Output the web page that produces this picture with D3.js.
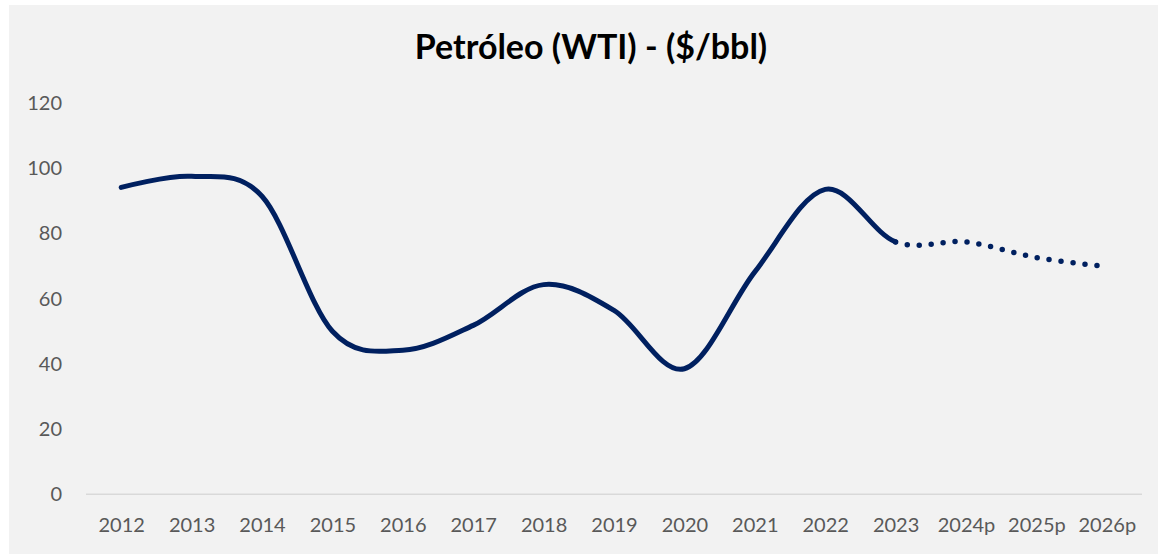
<!DOCTYPE html>
<html>
<head>
<meta charset="utf-8">
<script src="https://cdn.jsdelivr.net/npm/d3@7"></script>
<style>
  html, body { margin: 0; padding: 0; background: #ffffff; }
  svg { display: block; }
</style>
</head>
<body>
<svg id="chart" width="1158" height="554"></svg>
<script>
// WTI crude oil, annual average price in US$/bbl ("p" = projection)
const categories = ["2012", "2013", "2014", "2015", "2016", "2017", "2018", "2019",
                    "2020", "2021", "2022", "2023", "2024p", "2025p", "2026p"];
const prices = [94.1, 97.5, 91.4, 50.0, 44.2, 51.8, 64.3, 56.4,
                38.5, 68.2, 93.5, 77.4, 77.4, 72.6, 69.8];
const yTicks = [0, 20, 40, 60, 80, 100, 120];
const lastActual = "2023";
const title = "Petróleo (WTI) - ($/bbl)";

const W = 1158, H = 554;
const margin = { left: 86, right: 16, top: 103, bottom: 60 };
const svg = d3.select("#chart");

// chart area background
svg.append("rect")
  .attr("x", 9).attr("y", 5)
  .attr("width", W - 9).attr("height", H - 5)
  .attr("fill", "#f2f2f2");

const x = d3.scalePoint()
  .domain(categories)
  .range([margin.left, W - margin.right])
  .padding(0.5);

const y = d3.scaleLinear()
  .domain([0, 120])
  .range([494.3, 103]);

// title
svg.append("text")
  .attr("x", 591)
  .attr("y", 59)
  .attr("text-anchor", "middle")
  .attr("font-family", "Lato, 'Open Sans', sans-serif")
  .attr("font-weight", 700)
  .attr("font-size", 34)
  .attr("fill", "#000000")
  .text(title);

// y axis labels
const yAxis = svg.append("g")
  .attr("transform", `translate(${margin.left},0)`)
  .call(d3.axisLeft(y).tickValues(yTicks).tickSize(0).tickPadding(24));
yAxis.select(".domain").remove();
yAxis.selectAll("text")
  .attr("font-family", "Lato, 'Open Sans', sans-serif")
  .attr("font-size", 20)
  .attr("fill", "#595959");

// x axis: baseline + category labels
const xAxis = svg.append("g")
  .attr("transform", `translate(0,${y(0)})`)
  .call(d3.axisBottom(x).tickSize(0).tickPadding(24));
xAxis.select(".domain")
  .attr("stroke", "#d9d9d9")
  .attr("stroke-width", 1.6)
  .attr("d", `M${margin.left},0H${W - margin.right}`);
xAxis.selectAll("text")
  .attr("font-family", "Lato, 'Open Sans', sans-serif")
  .attr("font-size", 20)
  .attr("fill", "#595959");

// smoothed price line: solid for actual years, dotted for projections
const line = d3.line()
  .x((d, i) => x(categories[i]))
  .y(d => y(d))
  .curve(d3.curveCardinal.tension(0));

const full = line(prices);
const segs = full.split("C");           // segs[0] = "M..", segs[k] = segment k-1 -> k
const splitIdx = categories.indexOf(lastActual);
const solidPath = segs.slice(0, splitIdx + 1).join("C");
const dottedPath = `M${x(lastActual)},${y(prices[splitIdx])}C` + segs.slice(splitIdx + 1).join("C");

svg.append("path")
  .attr("d", solidPath)
  .attr("fill", "none")
  .attr("stroke", "#002060")
  .attr("stroke-width", 5)
  .attr("stroke-linecap", "round")
  .attr("stroke-linejoin", "round");

svg.append("path")
  .attr("d", dottedPath)
  .attr("fill", "none")
  .attr("stroke", "#002060")
  .attr("stroke-width", 5.5)
  .attr("stroke-linecap", "round")
  .attr("stroke-dasharray", "0 12");
</script>
</body>
</html>
